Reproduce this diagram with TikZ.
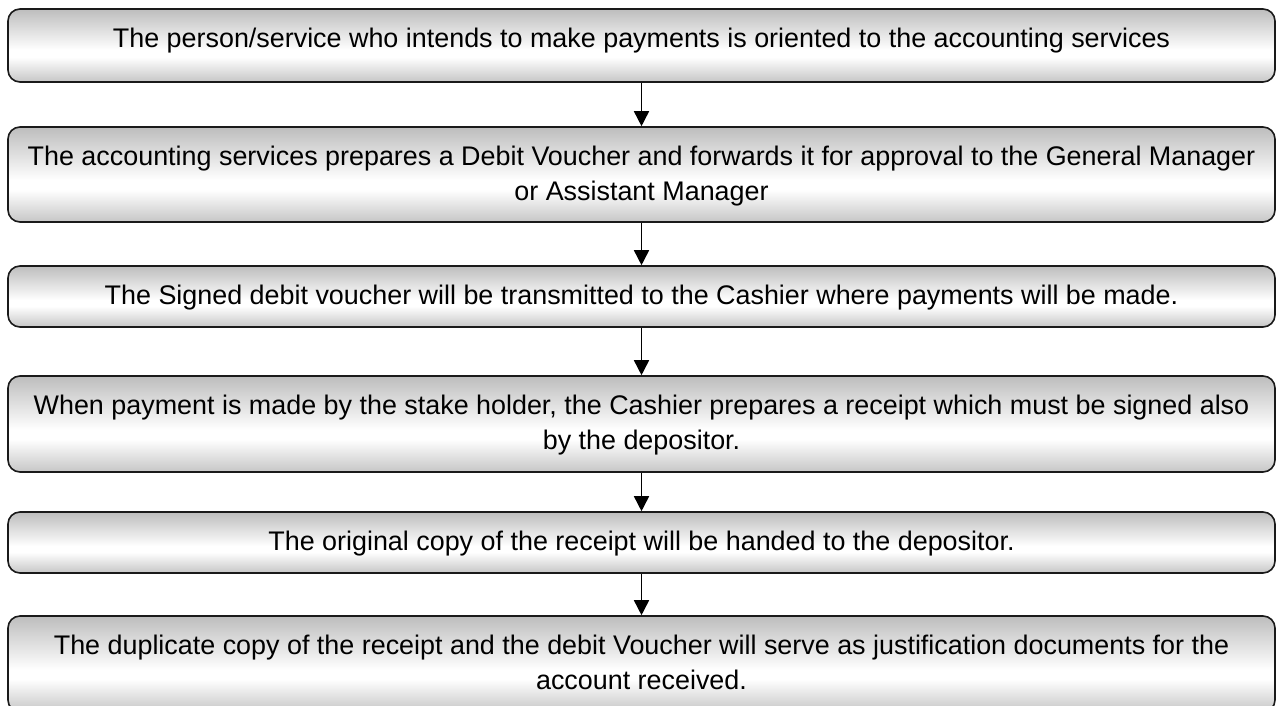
\documentclass[tikz,border=0pt]{standalone}
\usepackage{fontspec}
\setmainfont{Liberation Sans}
\usetikzlibrary{arrows.meta}
\definecolor{shadetop}{HTML}{BDBDBD}
\definecolor{shadebot}{HTML}{C6C6C6}
\definecolor{edge}{HTML}{1A1A1A}
% vertical shading: grey at the top and bottom, white about two thirds down
\pgfdeclareverticalshading{boxshade}{100bp}{%
  color(0bp)=(shadebot); color(25bp)=(shadebot); color(42bp)=(white);
  color(47bp)=(white); color(75bp)=(shadetop); color(100bp)=(shadetop)}
\tikzset{
  stepbox/.style={draw=edge, line width=1.6pt, rounded corners=12pt,
    shading=boxshade, minimum width=1267pt, inner sep=0pt},
  steptext/.style={anchor=north, inner sep=0pt, align=center,
    font=\fontsize{26.9}{35}\selectfont},
  flow/.style={draw=black, line width=1.6pt,
    -{Triangle[width=15pt,length=15pt]}}
}
\begin{document}
\begin{tikzpicture}[x=1pt, y=-1pt]
\useasboundingbox (0,0) rectangle (1276,705);
\clip (0,0) rectangle (1276,705);

\node[stepbox, minimum height=73pt] (b1) at (641.5,45.5) {};
\node[stepbox, minimum height=95pt] (b2) at (641.5,174.5) {};
\node[stepbox, minimum height=61pt] (b3) at (641.5,296.5) {};
\node[stepbox, minimum height=96pt] (b4) at (641.5,424) {};
\node[stepbox, minimum height=61pt] (b5) at (641.5,542.5) {};
\node[stepbox, minimum height=96pt] (b6) at (641.5,664) {};

\node[steptext] (t1) at ([yshift=-20pt]b1.north)
  {The person/service who intends to make payments is oriented to the accounting services};
\node[steptext] (t2) at ([yshift=-20pt]b2.north)
  {The accounting services prepares a Debit Voucher and forwards it for approval to the General Manager\\or Assistant Manager};
\node[steptext] (t3) at ([yshift=-20pt]b3.north)
  {The Signed debit voucher will be transmitted to the Cashier where payments will be made.};
\node[steptext] (t4) at ([yshift=-20pt]b4.north)
  {When payment is made by the stake holder, the Cashier prepares a receipt which must be signed also\\by the depositor.};
\node[steptext] (t5) at ([yshift=-20pt]b5.north)
  {The original copy of the receipt will be handed to the depositor.};
\node[steptext] (t6) at ([yshift=-20pt]b6.north)
  {The duplicate copy of the receipt and the debit Voucher will serve as justification documents for the\\account received.};

\draw[flow] (b1.south) -- (b2.north);
\draw[flow] (b2.south) -- (b3.north);
\draw[flow] (b3.south) -- (b4.north);
\draw[flow] (b4.south) -- (b5.north);
\draw[flow] (b5.south) -- (b6.north);
\end{tikzpicture}
\end{document}
